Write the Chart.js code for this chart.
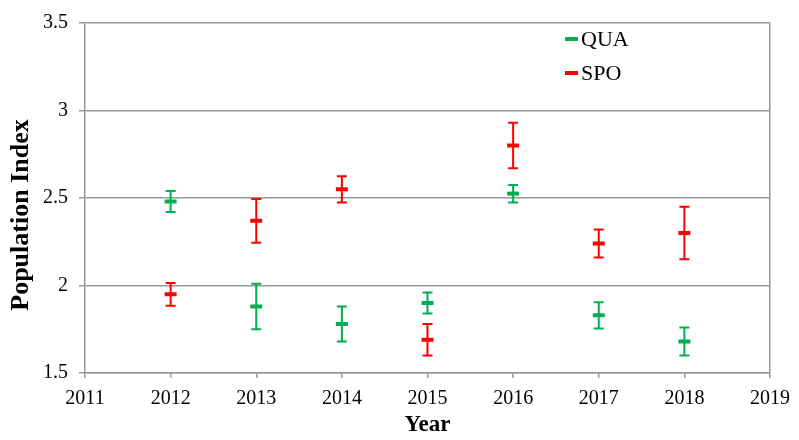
<!DOCTYPE html>
<html>
<head>
<meta charset="utf-8">
<title>Population Index</title>
<script src="https://cdn.jsdelivr.net/npm/chart.js@4.4.0/dist/chart.umd.min.js"></script>
<style>
    html, body { margin: 0; padding: 0; background: #ffffff; }
    #wrap { width: 799px; height: 440px; }
</style>
</head>
<body>
<div id="wrap"><canvas id="popChart" width="799" height="440"></canvas></div>
<script>
// values
const years = [2012, 2013, 2014, 2015, 2016, 2017, 2018];
const quaMean = [2.48, 1.88, 1.78, 1.90, 2.525, 1.83, 1.68];
const quaErr = [0.06, 0.13, 0.10, 0.06, 0.05, 0.075, 0.08];
const spoMean = [1.95, 2.37, 2.55, 1.69, 2.80, 2.24, 2.30];
const spoErr = [0.065, 0.125, 0.075, 0.09, 0.13, 0.08, 0.15];
const yTicks = [1.5, 2, 2.5, 3, 3.5];

const GREEN = "#00b050";
const RED = "#ff0000";
const GRID = "#989898";
const SERIF = "'Liberation Serif', 'Times New Roman', serif";

Chart.defaults.font.family = SERIF;
Chart.defaults.font.size = 20;
Chart.defaults.color = "#000000";

function toPoints(means) {
    return years.map((yr, i) => ({ x: yr, y: means[i] }));
}

// vertical error bars with caps, drawn under the markers
const errorBarPlugin = {
    id: "errorBars",
    beforeDatasetsDraw(chart) {
        const ctx = chart.ctx;
        const xs = chart.scales.x;
        const ys = chart.scales.y;
        chart.data.datasets.forEach(ds => {
            ctx.save();
            ctx.strokeStyle = ds.borderColor;
            ctx.lineWidth = 2;
            ds.data.forEach((pt, i) => {
                const px = xs.getPixelForValue(pt.x);
                const top = ys.getPixelForValue(pt.y + ds.errors[i]);
                const bot = ys.getPixelForValue(pt.y - ds.errors[i]);
                ctx.beginPath();
                ctx.moveTo(px, top);
                ctx.lineTo(px, bot);
                ctx.moveTo(px - 5, top);
                ctx.lineTo(px + 5, top);
                ctx.moveTo(px - 5, bot);
                ctx.lineTo(px + 5, bot);
                ctx.stroke();
            });
            ctx.restore();
        });
    }
};

// legend sits inside the plot, top right; y title sits a bit low like the original
const insideLegend = {
    id: "insideLegend",
    afterDraw(chart) {
        const ctx = chart.ctx;
        const x0 = 565;
        let y0 = 39;
        chart.data.datasets.forEach(ds => {
            ctx.save();
            ctx.strokeStyle = ds.borderColor;
            ctx.lineWidth = 4;
            ctx.beginPath();
            ctx.moveTo(x0, y0);
            ctx.lineTo(x0 + 13, y0);
            ctx.stroke();
            ctx.fillStyle = "#000000";
            ctx.font = "22px " + SERIF;
            ctx.textBaseline = "middle";
            ctx.fillText(ds.label, x0 + 16, y0 + 1);
            ctx.restore();
            y0 += 34;
        });

        ctx.save();
        ctx.translate(21, 215);
        ctx.rotate(-Math.PI / 2);
        ctx.font = "bold 26px " + SERIF;
        ctx.fillStyle = "#000000";
        ctx.textAlign = "center";
        ctx.textBaseline = "middle";
        ctx.fillText("Population Index", 0, 0);
        ctx.restore();
    }
};

const ctx = document.getElementById("popChart").getContext("2d");
new Chart(ctx, {
    type: "scatter",
    data: {
        datasets: [
            {
                label: "QUA",
                data: toPoints(quaMean),
                errors: quaErr,
                borderColor: GREEN,
                backgroundColor: GREEN,
                pointStyle: "line",
                pointRadius: 6,
                pointBorderWidth: 4
            },
            {
                label: "SPO",
                data: toPoints(spoMean),
                errors: spoErr,
                borderColor: RED,
                backgroundColor: RED,
                pointStyle: "line",
                pointRadius: 6,
                pointBorderWidth: 4
            }
        ]
    },
    options: {
        responsive: false,
        animation: false,
        layout: { padding: { top: 22, right: 24, left: 0, bottom: 0 } },
        plugins: {
            legend: { display: false },
            tooltip: { enabled: false }
        },
        scales: {
            x: {
                type: "linear",
                min: 2011,
                max: 2019,
                ticks: {
                    stepSize: 1,
                    padding: 9,
                    font: { size: 20, family: SERIF },
                    callback: v => String(v)
                },
                grid: {
                    color: c => (c.tick && c.tick.value === 2019) ? GRID : "rgba(0,0,0,0)",
                    lineWidth: 1.5,
                    tickColor: GRID,
                    tickLength: 5
                },
                border: { color: GRID, width: 1.5 },
                title: {
                    display: true,
                    text: "Year",
                    font: { size: 23, weight: "bold", family: SERIF },
                    padding: { top: 2, bottom: 1 }
                },
                afterFit: scale => { scale.height = 67; }
            },
            y: {
                min: 1.5,
                max: 3.5,
                afterBuildTicks: scale => {
                    scale.ticks = yTicks.map(v => ({ value: v }));
                },
                ticks: {
                    padding: 11,
                    font: { size: 20, family: SERIF },
                    callback: v => String(v)
                },
                grid: {
                    color: GRID,
                    lineWidth: 1.5,
                    tickColor: GRID,
                    tickLength: 6
                },
                border: { color: GRID, width: 1.5 },
                afterFit: scale => { scale.width = 85; }
            }
        }
    },
    plugins: [errorBarPlugin, insideLegend]
});
</script>
</body>
</html>
